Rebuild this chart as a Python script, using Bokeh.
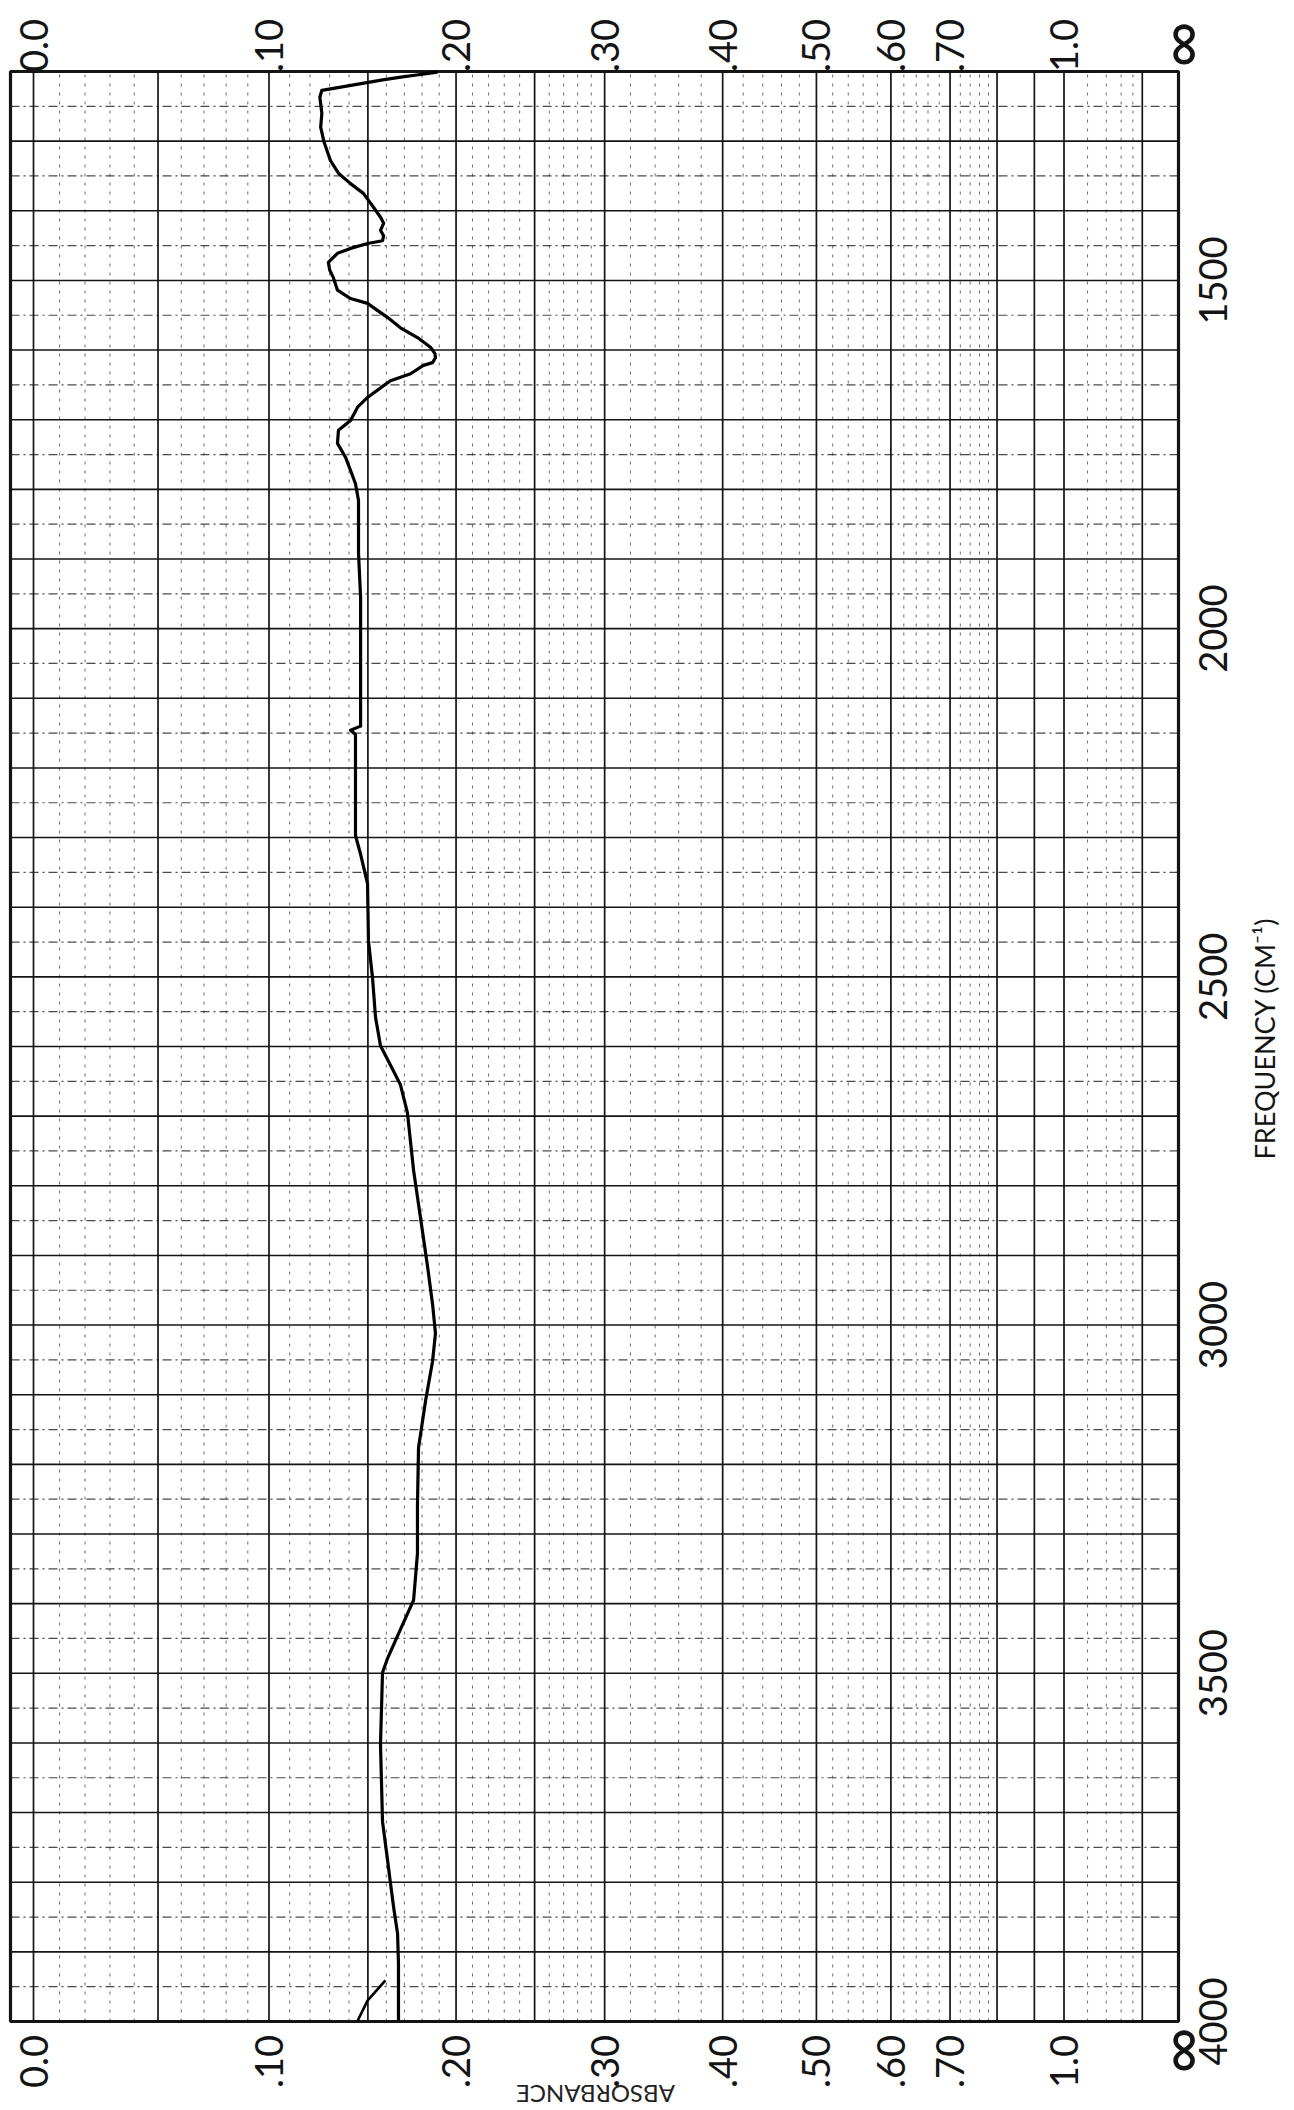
import numpy as np
from bokeh.plotting import figure
from bokeh.models import Range1d, ColumnDataSource
from bokeh.core.properties import value
from bokeh.embed import file_html
from bokeh.resources import INLINE

# ---------------- data ----------------
# frequency (cm^-1) and absorbance of the recorded trace
freq = [1201, 1205, 1208, 1212, 1220, 1227, 1237, 1260, 1280, 1300, 1328, 1346,
        1361, 1375, 1395, 1410, 1418, 1428, 1436, 1443, 1447, 1454, 1461, 1474,
        1485, 1496, 1514, 1526, 1533, 1543, 1553, 1568, 1582, 1596, 1605, 1611,
        1618, 1622, 1634, 1644, 1651, 1668, 1682, 1701, 1715, 1734, 1754, 1773,
        1792, 1816, 1855, 1892, 1954, 2090, 2140, 2146, 2152, 2159, 2297, 2324,
        2366, 2448, 2502, 2558, 2599, 2627, 2655, 2695, 2778, 2847, 2916, 2970,
        3012, 3052, 3108, 3176, 3259, 3328, 3395, 3437, 3479, 3499, 3602, 3713,
        3767, 3802, 3836, 3874, 3918, 3945, 3999]
absorbance = [0.189, 0.177, 0.168, 0.158, 0.141, 0.126, 0.125, 0.126, 0.1254, 0.127, 0.1304, 0.1345,
              0.1408, 0.1476, 0.1530, 0.157, 0.1585, 0.1568, 0.1585, 0.1579, 0.1498, 0.1408, 0.1340, 0.1293,
              0.130, 0.1319, 0.1340, 0.1408, 0.1498, 0.1551, 0.1606, 0.1678, 0.1774, 0.1849, 0.1875, 0.1878,
              0.1861, 0.1808, 0.1735, 0.1623, 0.1585, 0.1498, 0.1445, 0.1408, 0.1345, 0.1340, 0.1382, 0.1408,
              0.1434, 0.1450, 0.1450, 0.1450, 0.1461, 0.1461, 0.1461, 0.1408, 0.1434, 0.1434, 0.1434, 0.1461,
              0.1498, 0.1503, 0.1525, 0.1541, 0.1568, 0.1623, 0.1678, 0.1717, 0.1752, 0.1792, 0.1832, 0.1861,
              0.1878, 0.1861, 0.1821, 0.1780, 0.1774, 0.1774, 0.1752, 0.1678, 0.1606, 0.1579, 0.1568, 0.1579,
              0.1606, 0.1623, 0.1640, 0.1662, 0.1667, 0.1667, 0.1667]
# short pen stroke at the start of the run (bottom of the chart)
tail_freq = [3941, 3970, 3999]
tail_absorbance = [0.1595, 0.1498, 0.1445]

# absorbance scale labels (top and bottom)
abs_tick_values = [0.0, 0.1, 0.2, 0.3, 0.4, 0.5, 0.6, 0.7, 1.0]
abs_tick_labels = ["0.0", ".10", ".20", ".30", ".40", ".50", ".60", ".70", "1.0"]
inf_value, inf_label = float("inf"), "\u221e"
# frequency scale labels (right)
freq_tick_values = [1500, 2000, 2500, 3000, 3500, 4000]
freq_tick_labels = ["1500", "2000", "2500", "3000", "3500", "4000"]

# chart-paper rulings
grid_major_abs = [0.0, 0.05, 0.1, 0.15, 0.2, 0.25, 0.3, 0.4, 0.5, 0.6, 0.7, 0.8, 0.9, 1.0, 1.5]
grid_minor_abs = ([0.01, 0.02, 0.03, 0.04, 0.06, 0.07, 0.08, 0.09, 0.11, 0.12, 0.13, 0.14,
                   0.16, 0.17, 0.18, 0.19, 0.21, 0.22, 0.23, 0.24, 0.26, 0.27, 0.28, 0.29,
                   0.32, 0.34, 0.36, 0.38, 0.42, 0.44, 0.46, 0.48, 0.52, 0.54, 0.56, 0.58,
                   0.62, 0.64, 0.66, 0.68, 0.72, 0.74, 0.76, 0.78, 1.1, 1.2, 1.3, 1.4])
grid_major_freq = list(range(1300, 4000, 100))
grid_minor_freq = list(range(1250, 4000, 100))

FREQ_TOP, FREQ_BOTTOM = 1200, 4000


def absorbed(a):
    """chart paper is linear in transmittance: position = 1 - T = 1 - 10^-A"""
    return 1.0 - 10.0 ** (-np.asarray(a, dtype=float))


# ---------------- layout (page pixels) ----------------
W, H = 1292, 2108
PAGE_M = 0
FRAME_L, FRAME_R, FRAME_T, FRAME_B = 10, 1178, 71, 2021   # page px of the paper frame
ZERO_PX = 33                                              # page px of the A = 0 ruling
x_left = (FRAME_L - ZERO_PX) / (FRAME_R - ZERO_PX)


def x_at(px):
    return x_left + (px - FRAME_L) * (1.0 - x_left) / (FRAME_R - FRAME_L)


def f_at(py):
    return FREQ_TOP + (py - FRAME_T) * (FREQ_BOTTOM - FREQ_TOP) / (FRAME_B - FRAME_T)


p = figure(width=W, height=H, output_backend="svg", toolbar_location=None, title=None,
           x_range=Range1d(x_at(PAGE_M), x_at(PAGE_M + W)),
           y_range=Range1d(f_at(PAGE_M + H), f_at(PAGE_M)),
           x_axis_location=None, y_axis_location=None,
           min_border=0, min_border_left=0, min_border_right=0,
           min_border_top=0, min_border_bottom=0)
p.grid.visible = False
p.background_fill_color = "white"
p.border_fill_color = "white"
p.outline_line_color = None

ink = "#141414"

# minor rulings (broken, faint)
xm = absorbed(grid_minor_abs)
p.segment(x0=xm, x1=xm, y0=[FREQ_BOTTOM] * len(xm), y1=[FREQ_TOP] * len(xm),
          line_color="#3a3a3a", line_width=1, line_dash="3 6", line_alpha=0.75)
p.segment(x0=[x_left] * len(grid_minor_freq), x1=[1.0] * len(grid_minor_freq),
          y0=grid_minor_freq, y1=grid_minor_freq,
          line_color="#2a2a2a", line_width=1.2, line_dash="9 4 2 4", line_alpha=0.85)
# major rulings
xM = absorbed(grid_major_abs)
p.segment(x0=xM, x1=xM, y0=[FREQ_BOTTOM] * len(xM), y1=[FREQ_TOP] * len(xM),
          line_color=ink, line_width=1.7)
p.segment(x0=[x_left] * len(grid_major_freq), x1=[1.0] * len(grid_major_freq),
          y0=grid_major_freq, y1=grid_major_freq,
          line_color=ink, line_width=1.6)
# paper frame
p.quad(left=[x_left], right=[1.0], top=[FREQ_TOP], bottom=[FREQ_BOTTOM],
       fill_color=None, line_color=ink, line_width=3.2)

# spectrum trace
src = ColumnDataSource(dict(x=absorbed(absorbance), y=freq))
p.line("x", "y", source=src, line_color="black", line_width=3.2, line_join="round")
p.line(absorbed(tail_absorbance), tail_freq, line_color="black", line_width=2.6)

FONT = value("Lato")
# absorbance labels, top and bottom
xa = list(absorbed(abs_tick_values))
n = len(xa)
p.text(x=xa + xa, y=[f_at(45)] * n + [f_at(2061)] * n, text=abs_tick_labels + abs_tick_labels,
       angle=np.pi / 2, text_align="center", text_baseline="middle",
       text_font=FONT, text_font_size="38px", text_color=ink)
xi = float(absorbed(inf_value))
p.text(x=[xi, xi], y=[f_at(44), f_at(2050)], text=[inf_label, inf_label],
       angle=np.pi / 2, text_align="center", text_baseline="middle",
       text_font=FONT, text_font_size="64px", text_color=ink)

# frequency labels, right
p.text(x=[x_at(1212)] * len(freq_tick_values), y=freq_tick_values, text=freq_tick_labels,
       angle=np.pi / 2, text_align="center", text_baseline="middle",
       text_font=FONT, text_font_size="38px", text_color=ink)

p.text(x=[x_at(1264)], y=[f_at(1038)], text=["FREQUENCY (CM\u207b\u00b9)"], angle=np.pi / 2,
       text_align="center", text_baseline="middle",
       text_font=FONT, text_font_size="27px", text_color=ink)

# upside-down axis title at the page foot
p.text(x=[x_at(595)], y=[f_at(2094)], text=["ABSORBANCE"], angle=np.pi,
       text_align="center", text_baseline="middle",
       text_font=FONT, text_font_size="24px", text_color="#222222")

open("out.html", "w").write(file_html(p, INLINE))
